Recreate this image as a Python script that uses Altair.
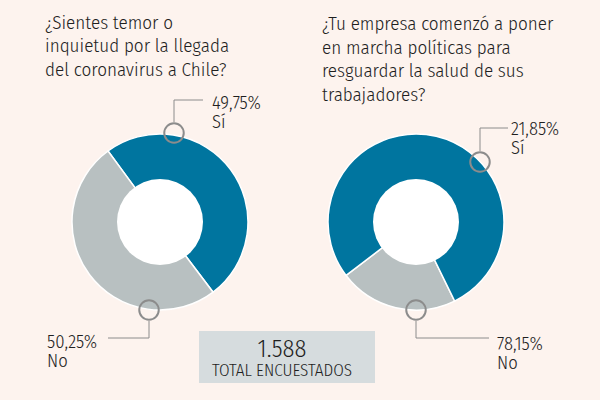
import math
import altair as alt
import pandas as pd

BG = "#FDF3EE"
BLUE = "#00759F"
GRAY = "#B8C0C1"
INK = "#1F1F1F"
LINE = "#8C8C8C"
FONT = "Fira Sans Condensed"
WEIGHT = 300

# ¿Sientes temor o inquietud...?
temor_respuestas = ["Sí", "No"]
temor_pct = [49.75, 50.25]
temor_colores = [BLUE, GRAY]

# ¿Tu empresa comenzó a poner en marcha políticas...?
empresa_respuestas = ["Sí", "No"]
empresa_pct = [21.85, 78.15]
empresa_colores = [GRAY, BLUE]

total_encuestados = "1.588"
total_texto = "TOTAL ENCUESTADOS"

titulo_temor = ["¿Sientes temor o", "inquietud por la llegada", "del coronavirus a Chile?"]
titulo_empresa = ["¿Tu empresa comenzó a poner", "en marcha políticas para",
                  "resguardar la salud de sus", "trabajadores?"]

R_OUT, R_IN = 88, 43
uno = pd.DataFrame({"k": [0]})


def pct_es(v):
    return f"{v:.2f}".replace(".", ",") + "%"


def donut(resp, pct, colors, cx, cy, start_deg, first):
    df = pd.DataFrame({"respuesta": resp, "pct": pct, "color": colors})
    df["orden"] = [0 if r == first else 1 for r in resp]
    a0 = math.radians(start_deg)
    ring = alt.Chart(df).mark_arc(
        innerRadius=R_IN - 2, outerRadius=R_OUT, stroke="white", strokeWidth=1.5
    ).encode(
        theta=alt.Theta("pct:Q", stack=True,
                        scale=alt.Scale(domain=[0, 100], range=[a0, a0 + 2 * math.pi])),
        color=alt.Color("color:N", scale=None),
        order=alt.Order("orden:Q"),
        x=alt.value(cx), y=alt.value(cy),
    )
    hole = alt.Chart(uno).mark_arc(
        outerRadius=R_IN, innerRadius=0, theta=0, theta2=2 * math.pi,
        color="white", strokeWidth=0
    ).encode(x=alt.value(cx), y=alt.value(cy))
    return [ring, hole]


def callout(cx, cy, y_line, x_end, tx, ty, resp, pct, answer):
    v = pct[resp.index(answer)]
    r = 11
    ring = alt.Chart(uno).mark_point(
        shape="circle", filled=False, stroke=LINE, strokeWidth=2, opacity=1,
        size=math.pi * r ** 2
    ).encode(x=alt.value(cx), y=alt.value(cy))
    y_start = cy - r if y_line < cy else cy + r
    vert = alt.Chart(uno).mark_rule(color=LINE, strokeWidth=1).encode(
        x=alt.value(cx), y=alt.value(y_start), y2=alt.value(y_line))
    horiz = alt.Chart(uno).mark_rule(color=LINE, strokeWidth=1).encode(
        x=alt.value(cx), x2=alt.value(x_end), y=alt.value(y_line))
    label = alt.Chart(uno).mark_text(
        align="left", baseline="alphabetic", font=FONT, fontWeight=WEIGHT, fontSize=18.5,
        color=INK, lineHeight=19, text=[pct_es(v), answer]
    ).encode(x=alt.value(tx), y=alt.value(ty))
    return [vert, horiz, ring, label]


def title(lines, x, y):
    return alt.Chart(uno).mark_text(
        align="left", baseline="alphabetic", font=FONT, fontWeight=WEIGHT, fontSize=19,
        color=INK, lineHeight=23.5, text=lines
    ).encode(x=alt.value(x), y=alt.value(y))


layers = []
layers += donut(temor_respuestas, temor_pct, temor_colores, 160, 222, -36.2, "Sí")
layers += donut(empresa_respuestas, empresa_pct, empresa_colores, 416, 222, 232.6, "No")
layers += callout(174, 133, 100, 203, 212, 109, temor_respuestas, temor_pct, "Sí")
layers += callout(149, 310, 338, 108, 47, 348, temor_respuestas, temor_pct, "No")
layers += callout(480, 162, 128, 508, 511, 135, empresa_respuestas, empresa_pct, "Sí")
layers += callout(416, 310, 338, 489, 497, 350, empresa_respuestas, empresa_pct, "No")
layers.append(title(titulo_temor, 45, 28.5))
layers.append(title(titulo_empresa, 322, 30))

box = alt.Chart(uno).mark_rect(color="#D6DCDE").encode(
    x=alt.value(199), x2=alt.value(375), y=alt.value(331), y2=alt.value(383))
total_num = alt.Chart(uno).mark_text(
    align="center", baseline="alphabetic", font=FONT, fontWeight=WEIGHT, fontSize=24.5,
    color=INK, text=total_encuestados).encode(x=alt.value(282), y=alt.value(357))
total_lbl = alt.Chart(uno).mark_text(
    align="center", baseline="alphabetic", font=FONT, fontWeight=WEIGHT, fontSize=17,
    color=INK, text=total_texto).encode(x=alt.value(282), y=alt.value(376))
layers += [box, total_num, total_lbl]

chart = alt.layer(*layers).resolve_scale(theta="independent").properties(
    width=600, height=400, padding=0, autosize="none", background=BG
).configure_view(stroke=None)

chart.save("out.html", embed_options={"renderer": "svg", "actions": False})
